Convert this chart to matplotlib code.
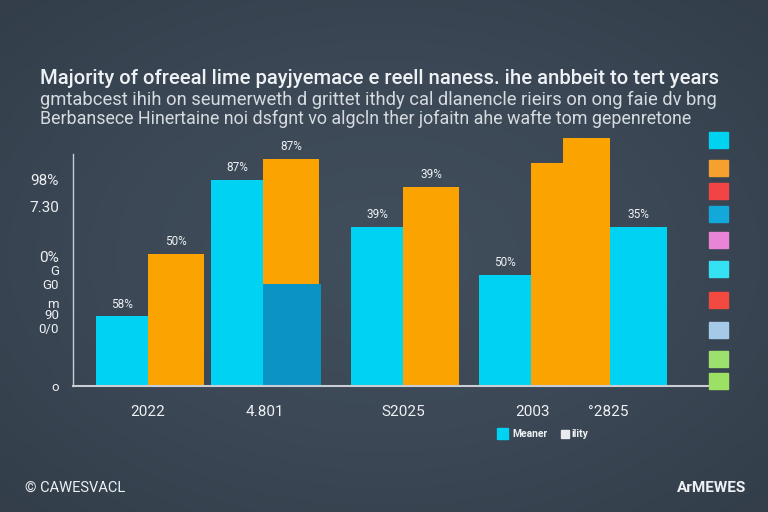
import numpy as np
import matplotlib.pyplot as plt
from matplotlib.colors import LinearSegmentedColormap

# data
groups = ["2022", "4.801", "S2025", "2003", "°2825"]
cyan_vals = [30, 89, 68.5, 48]
orange_vals = [57, 54, 86, 96]
orange_bottom = [0, 44, 0, 0]
dark_vals = [0, 44, 0, 0]
extra_orange = 107
extra_cyan = 68.5
value_labels = ["58%", "50%", "87%", "87%", "39%", "39%", "50%", "35%"]
ytick_labels = ["98%", "7.30", "0%", "G", "G0", "m", "90", "0/0", "o"]
ytick_vals = [89, 77.5, 56, 50, 44, 36, 31, 25, 0]
legend_colors = ["#00d2f2", "#f6a02e", "#f24444", "#12a8da", "#ea84d6",
                 "#34e2f4", "#f24a40", "#a4cae8", "#9ce06e", "#9ce064"]

CYAN = "#00d2f4"
ORANGE = "#fba300"
DARK = "#0b93c6"
BG = "#3c4856"
TXT = "#eef1f4"
FONT = ["Roboto", "DejaVu Sans"]

fig = plt.figure(figsize=(7.68, 5.12), dpi=100)

# background with soft vignette
bg = fig.add_axes([0, 0, 1, 1])
yy, xx = np.mgrid[-1:1:256j, -1:1:384j]
r = np.sqrt(xx ** 2 + yy ** 2)
bg.imshow(r, cmap=LinearSegmentedColormap.from_list(
    "bg", ["#414e5c", "#3c4856", "#333e4a"]), extent=[0, 1, 0, 1],
    aspect="auto", vmin=0, vmax=1.4)
bg.axis("off")

W, H = 768, 512
def px(x0, y0, x1, y1):
    return [x0 / W, 1 - y1 / H, (x1 - x0) / W, (y1 - y0) / H]

ax = fig.add_axes(px(73, 131, 708, 386))
ax.set_facecolor("none")
ax.set_xlim(0, 6.35)
ax.set_ylim(0, 110)

# bar left edges in axis units (1 unit = 100 px)
cyan_left = [0.23, 1.38, 2.78, 4.06]
orange_left = [0.75, 1.90, 3.30, 4.58]
cw, ow = 0.52, 0.56

ax.bar(cyan_left, cyan_vals, width=cw, align="edge", color=CYAN)
ax.bar(orange_left[1], dark_vals[1], width=ow + 0.02, align="edge", color=DARK)
ax.bar(orange_left[:3], orange_vals[:3], bottom=orange_bottom[:3], width=ow,
       align="edge", color=ORANGE)
ax.bar(orange_left[3], orange_vals[3], width=0.32, align="edge", color=ORANGE)
ax.bar(4.90, extra_orange, width=0.47, align="edge", color=ORANGE)
ax.bar(5.37, extra_cyan, width=0.57, align="edge", color=CYAN)

# value labels
lab_x = [cyan_left[0] + cw / 2, orange_left[0] + ow / 2,
         cyan_left[1] + cw / 2, orange_left[1] + ow / 2,
         cyan_left[2] + cw / 2, orange_left[2] + ow / 2,
         cyan_left[3] + cw / 2, 5.37 + 0.57 / 2]
lab_y = [cyan_vals[0], orange_vals[0], cyan_vals[1],
         orange_bottom[1] + orange_vals[1], cyan_vals[2], orange_vals[2],
         cyan_vals[3], extra_cyan]
for x, y, t in zip(lab_x, lab_y, value_labels):
    ax.text(x, y + 2.5, t, ha="center", va="bottom", color=TXT, fontsize=8.5,
            family=FONT)

for s in ["top", "right"]:
    ax.spines[s].set_visible(False)
ax.spines["left"].set_bounds(0, 100)
ax.spines["left"].set_color("#c8ced4")
ax.spines["bottom"].set_color("#c8ced4")
ax.spines["left"].set_linewidth(1)
ax.spines["bottom"].set_linewidth(1.5)
ax.set_yticks(ytick_vals)
ax.set_yticklabels(ytick_labels, color=TXT, fontsize=9.5, family=FONT)
for lbl in ax.get_yticklabels()[:3]:
    lbl.set_fontsize(11)
ax.tick_params(axis="y", length=0, pad=10)
ax.set_xticks([0.75, 1.92, 3.30, 4.60, 5.35])
ax.set_xticklabels(groups, color=TXT, fontsize=11, family=FONT)
ax.tick_params(axis="x", length=0, pad=14)

# right-hand colour swatches
sw_y = [132, 160, 183, 206, 232, 261, 292, 322, 351, 373]
for y, c in zip(sw_y, legend_colors):
    fig.add_artist(plt.Rectangle((709 / W, 1 - (y + 16) / H), 19 / W, 16 / H,
                                 transform=fig.transFigure, color=c))

# title and subtitle lines
fig.text(40 / W, 1 - 78 / H,
         "Majority of ofreeal lime payjyemace e reell naness. ihe anbbeit to tert years",
         color=TXT, fontsize=14.6, family=FONT, weight="medium", va="center")
fig.text(40 / W, 1 - 100 / H,
         "gmtabcest ihih on seumerweth d grittet ithdy cal dlanencle rieirs on ong faie dv bng",
         color="#d6dbe0", fontsize=13.2, family=FONT, va="center")
fig.text(40 / W, 1 - 119 / H,
         "Berbansece Hinertaine noi dsfgnt vo algcln ther jofaitn ahe wafte tom gepenretone",
         color="#d6dbe0", fontsize=12.9, family=FONT, va="center")

# bottom legend
fig.add_artist(plt.Rectangle((497 / W, 1 - 439 / H), 11 / W, 11 / H,
                             transform=fig.transFigure, color=CYAN))
fig.text(512 / W, 1 - 434 / H, "Meaner", color=TXT, fontsize=7.5,
         family=FONT, va="center", weight="bold")
fig.add_artist(plt.Rectangle((561 / W, 1 - 438 / H), 8 / W, 8 / H,
                             transform=fig.transFigure, color="#e8ecef"))
fig.text(571 / W, 1 - 434 / H, "ility", color=TXT, fontsize=7.5,
         family=FONT, va="center", weight="bold")

# footer
fig.text(25 / W, 1 - 488 / H, "© CAWESVACL", color=TXT, fontsize=10.5,
         family=FONT, va="center")
fig.text(746 / W, 1 - 488 / H, "ArMEWES", color=TXT, fontsize=11,
         family=FONT, va="center", ha="right", weight="bold")

fig.savefig("out.png", dpi=100, facecolor=BG)
